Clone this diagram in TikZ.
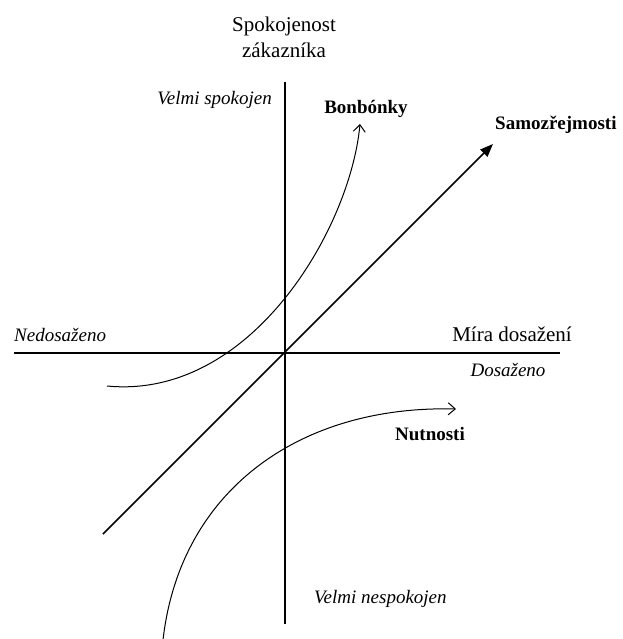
\documentclass[tikz,border=0pt]{standalone}
\usepackage{fontspec}
\setmainfont{Liberation Serif}
\usepackage{tikz}
\usetikzlibrary{arrows.meta,positioning}
\newcommand{\kanofont}{\fontsize{19}{22}\selectfont}
\newcommand{\titlefont}{\fontsize{21}{26}\selectfont}

\begin{document}
\begin{tikzpicture}[
  x=1pt,y=-1pt,
  axis/.style={line width=1.3pt},
  diag/.style={-{Triangle[length=13pt,width=10pt]},line width=1.5pt},
  curve/.style={-{Straight Barb[length=7pt,width=12pt]},line width=1pt},
  title/.style={font=\titlefont,align=center,inner sep=0pt},
  cat/.style={font=\kanofont\bfseries,inner sep=0pt},
  note/.style={font=\kanofont\itshape,inner sep=0pt}]
\useasboundingbox (0,0) rectangle (622,639);
% axes
\coordinate (top) at (285,82);
\coordinate (bottom) at (285,624);
\coordinate (left) at (14,353);
\coordinate (right) at (560,353);
\draw[axis] (top) -- (bottom);
\draw[axis] (left) -- (right);
% axis labels
\node[title] (yname) at (284,37) {Spokojenost\\zákazníka};
\node[title,anchor=base east] (xname) at (572,341) {Míra dosažení};
\node[note,anchor=base east] (yhigh) at (272,105) {Velmi spokojen};
\node[note,anchor=base west] (ylow) at (314,603) {Velmi nespokojen};
\node[note,anchor=base west] (xlow) at (14,341) {Nedosaženo};
\node[note,anchor=base] (xhigh) at (508,376) {Dosaženo};
% categories
\coordinate (s0) at (103,534);
\coordinate (s1) at (493,144);
\draw[diag] (s0) -- (s1);
\node[cat,anchor=base west] (samo) at (495,130) {Samozřejmosti};
\coordinate (b0) at (107,386);
\coordinate (b1) at (360,124);
\draw[curve] (b0) .. controls (250,400) and (350,230) .. (b1);
\node[cat,anchor=base] (bonb) at (366,114) {Bonbónky};
\coordinate (n0) at (163,640);
\coordinate (n1) at (456,409);
\draw[curve] (n0) .. controls (180,490) and (300,405) .. (n1);
\node[cat,anchor=base] (nutn) at (430,440) {Nutnosti};
\end{tikzpicture}
\end{document}
